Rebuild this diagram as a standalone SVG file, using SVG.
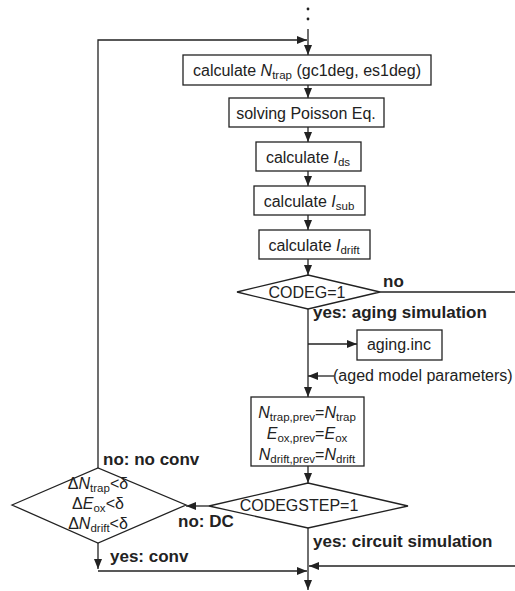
<svg xmlns="http://www.w3.org/2000/svg" width="515" height="591" viewBox="0 0 515 591">
<style>
text{font-family:"Liberation Sans",Arial,sans-serif;fill:#222}
.t{font-size:16px}
.b{font-size:17px;font-weight:bold}
.c{text-anchor:middle}
.s{font-size:11.5px}
.i{font-style:italic}
.box{fill:#fff;stroke:#222;stroke-width:1.3}
.ln{fill:none;stroke:#222;stroke-width:1.3}
</style>
<defs>
<marker id="a" markerUnits="userSpaceOnUse" markerWidth="10" markerHeight="8" viewBox="0 0 10 8" refX="10" refY="4" orient="auto">
<path d="M0,0 L10,4 L0,8 Z" fill="#222"/>
</marker>
</defs>
<g id="connectors">
<circle cx="308" cy="9" r="1.4" fill="#222"/>
<circle cx="308" cy="19" r="1.4" fill="#222"/>
<line class="ln" x1="308" y1="29" x2="308" y2="55" marker-end="url(#a)"/>
<polyline class="ln" points="98,468 98,40 307,40" marker-end="url(#a)"/>
<line class="ln" x1="308" y1="85" x2="308" y2="98" marker-end="url(#a)"/>
<line class="ln" x1="308" y1="127" x2="308" y2="142" marker-end="url(#a)"/>
<line class="ln" x1="308" y1="171" x2="308" y2="186" marker-end="url(#a)"/>
<line class="ln" x1="308" y1="215" x2="308" y2="230" marker-end="url(#a)"/>
<line class="ln" x1="308" y1="259" x2="308" y2="275" marker-end="url(#a)"/>
<line class="ln" x1="380" y1="292" x2="515" y2="292"/>
<line class="ln" x1="308" y1="309" x2="308" y2="397" marker-end="url(#a)"/>
<line class="ln" x1="308" y1="344" x2="357" y2="344" marker-end="url(#a)"/>
<line class="ln" x1="334" y1="376" x2="308" y2="376" marker-end="url(#a)"/>
<line class="ln" x1="308" y1="466" x2="308" y2="483" marker-end="url(#a)"/>
<line class="ln" x1="209" y1="506" x2="186" y2="506" marker-end="url(#a)"/>
<line class="ln" x1="98" y1="543" x2="98" y2="569" marker-end="url(#a)"/>
<line class="ln" x1="98" y1="571" x2="307" y2="571" marker-end="url(#a)"/>
<line class="ln" x1="308" y1="528" x2="308" y2="590" marker-end="url(#a)"/>
<line class="ln" x1="515" y1="566" x2="309" y2="566" marker-end="url(#a)"/>
<text class="b" x="383" y="287">no</text>
<text class="b" x="313" y="318">yes: aging simulation</text>
<text class="t" x="333" y="381">(aged model parameters)</text>
<text class="b" x="178" y="527">no: DC</text>
<text class="b" x="103" y="465">no: no conv</text>
<text class="b" x="110" y="562">yes: conv</text>
<text class="b" x="313" y="547">yes: circuit simulation</text>
</g>
<g id="n1">
<rect class="box" x="183" y="55" width="248" height="30"/>
<text class="t c" x="307" y="76">calculate <tspan class="i">N</tspan><tspan class="s" dy="3">trap</tspan><tspan dy="-3"> (gc1deg, es1deg)</tspan></text>
</g>
<g id="n2">
<rect class="box" x="229" y="98" width="155" height="29"/>
<text class="t c" x="306" y="119">solving Poisson Eq.</text>
</g>
<g id="n3">
<rect class="box" x="256" y="142" width="105" height="29"/>
<text class="t c" x="308" y="163">calculate <tspan class="i">I</tspan><tspan class="s" dy="3">ds</tspan></text>
</g>
<g id="n4">
<rect class="box" x="254" y="186" width="111" height="29"/>
<text class="t c" x="309" y="207">calculate <tspan class="i">I</tspan><tspan class="s" dy="3">sub</tspan></text>
</g>
<g id="n5">
<rect class="box" x="259" y="230" width="111" height="29"/>
<text class="t c" x="314" y="251">calculate <tspan class="i">I</tspan><tspan class="s" dy="3">drift</tspan></text>
</g>
<g id="n6">
<polygon class="box" points="237,292 308,275 380,292 308,309"/>
<text class="t c" x="307" y="298">CODEG=1</text>
</g>
<g id="n7">
<rect class="box" x="357" y="330" width="85" height="30"/>
<text class="t c" x="399" y="350">aging.inc</text>
</g>
<g id="n8">
<rect class="box" x="251" y="397" width="113" height="69"/>
<text class="t c" x="307" y="418"><tspan class="i">N</tspan><tspan class="s" dy="3">trap,prev</tspan><tspan dy="-3">=</tspan><tspan class="i">N</tspan><tspan class="s" dy="3">trap</tspan></text>
<text class="t c" x="307" y="439"><tspan class="i">E</tspan><tspan class="s" dy="3">ox,prev</tspan><tspan dy="-3">=</tspan><tspan class="i">E</tspan><tspan class="s" dy="3">ox</tspan></text>
<text class="t c" x="307" y="460"><tspan class="i">N</tspan><tspan class="s" dy="3">drift,prev</tspan><tspan dy="-3">=</tspan><tspan class="i">N</tspan><tspan class="s" dy="3">drift</tspan></text>
</g>
<g id="n9">
<polygon class="box" points="209,506 308,483 408,506 308,528"/>
<text class="t c" x="299" y="511">CODEGSTEP=1</text>
</g>
<g id="n10">
<polygon class="box" points="12,505 98,468 186,505 98,543"/>
<text class="t c" x="98" y="489">Δ<tspan class="i">N</tspan><tspan class="s" dy="3">trap</tspan><tspan dy="-3">&lt;δ</tspan></text>
<text class="t c" x="98" y="509">Δ<tspan class="i">E</tspan><tspan class="s" dy="3">ox</tspan><tspan dy="-3">&lt;δ</tspan></text>
<text class="t c" x="98" y="529">Δ<tspan class="i">N</tspan><tspan class="s" dy="3">drift</tspan><tspan dy="-3">&lt;δ</tspan></text>
</g>
</svg>
